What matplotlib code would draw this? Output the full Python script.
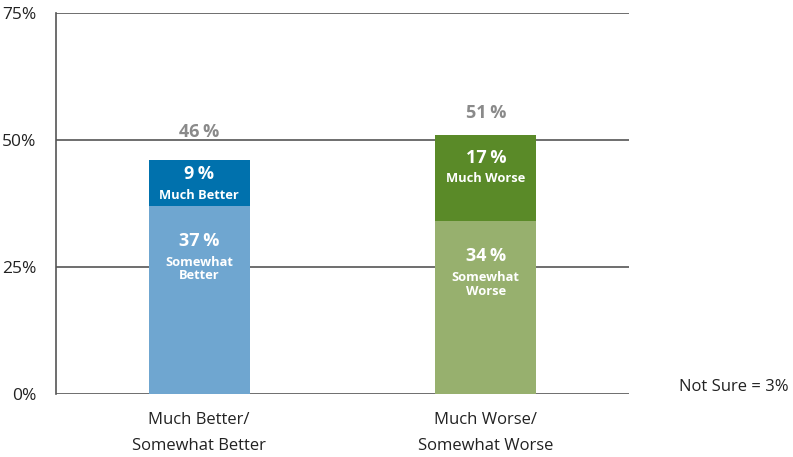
import matplotlib
matplotlib.use("Agg")
import matplotlib.pyplot as plt

plt.rcParams['font.family'] = ['Open Sans', 'DejaVu Sans']

categories = ["Much Better/\nSomewhat Better", "Much Worse/\nSomewhat Worse"]
base_values = [37, 34]
top_values = [9, 17]
base_labels = ["Somewhat\nBetter", "Somewhat\nWorse"]
top_labels = ["Much Better", "Much Worse"]
base_colors = ["#6fa6d0", "#97b06e"]
top_colors = ["#0071ad", "#5a8a28"]
yticks = [0, 25, 50, 75]
note = "Not Sure = 3%"

fig = plt.figure(figsize=(7.93, 4.57), dpi=100)
ax = fig.add_axes([56/793, 63/457, 573/793, 381/457])

x = list(range(len(categories)))
w = 0.353
ax.bar(x, base_values, width=w, color=base_colors, zorder=3)
ax.bar(x, top_values, width=w, bottom=base_values, color=top_colors, zorder=3)

total_pad = [5.6, 4.3]
for i in x:
    b, t = base_values[i], top_values[i]
    tot = b + t
    ax.text(i, tot + total_pad[i], f"{tot}\u2009%", ha='center', va='center', color='#8a8a8a',
            fontsize=13, fontweight='bold')
    off = 0.9 + 0.21 * t
    ax.text(i, tot - off, f"{t}\u2009%", ha='center', va='center', color='white',
            fontsize=13, fontweight='bold', zorder=4)
    ax.text(i, tot - off - 4.1, top_labels[i], ha='center', va='center', color='white',
            fontsize=9.3, fontweight='bold', zorder=4)
    ax.text(i, b - 6.9, f"{b}\u2009%", ha='center', va='center', color='white',
            fontsize=13, fontweight='bold', zorder=4)
    ax.text(i, b - 12.4, base_labels[i], ha='center', va='center', color='white',
            fontsize=9.3, fontweight='bold', linespacing=1.05, zorder=4)

ax.set_xlim(-0.5, 1.5)
ax.set_ylim(0, 75)
ax.set_yticks(yticks)
ax.set_yticklabels([f"{v}%" for v in yticks], fontsize=12.5, color='#222222')
ax.set_xticks(x)
ax.set_xticklabels(categories, fontsize=12, color='#222222', linespacing=1.85)
ax.tick_params(axis='y', length=0, pad=14)
ax.tick_params(axis='x', length=0, pad=13)
for s in ['top', 'right', 'bottom']:
    ax.spines[s].set_visible(False)
ax.spines['left'].set_color('#555555')
ax.spines['left'].set_linewidth(1.2)
for v in yticks:
    ax.axhline(v, color='#555555', linewidth=1.2, zorder=1)

fig.text(789/793, 1 - 387/457, note, ha='right', va='center', fontsize=12, color='#222222')

fig.savefig("out.png", dpi=100)
